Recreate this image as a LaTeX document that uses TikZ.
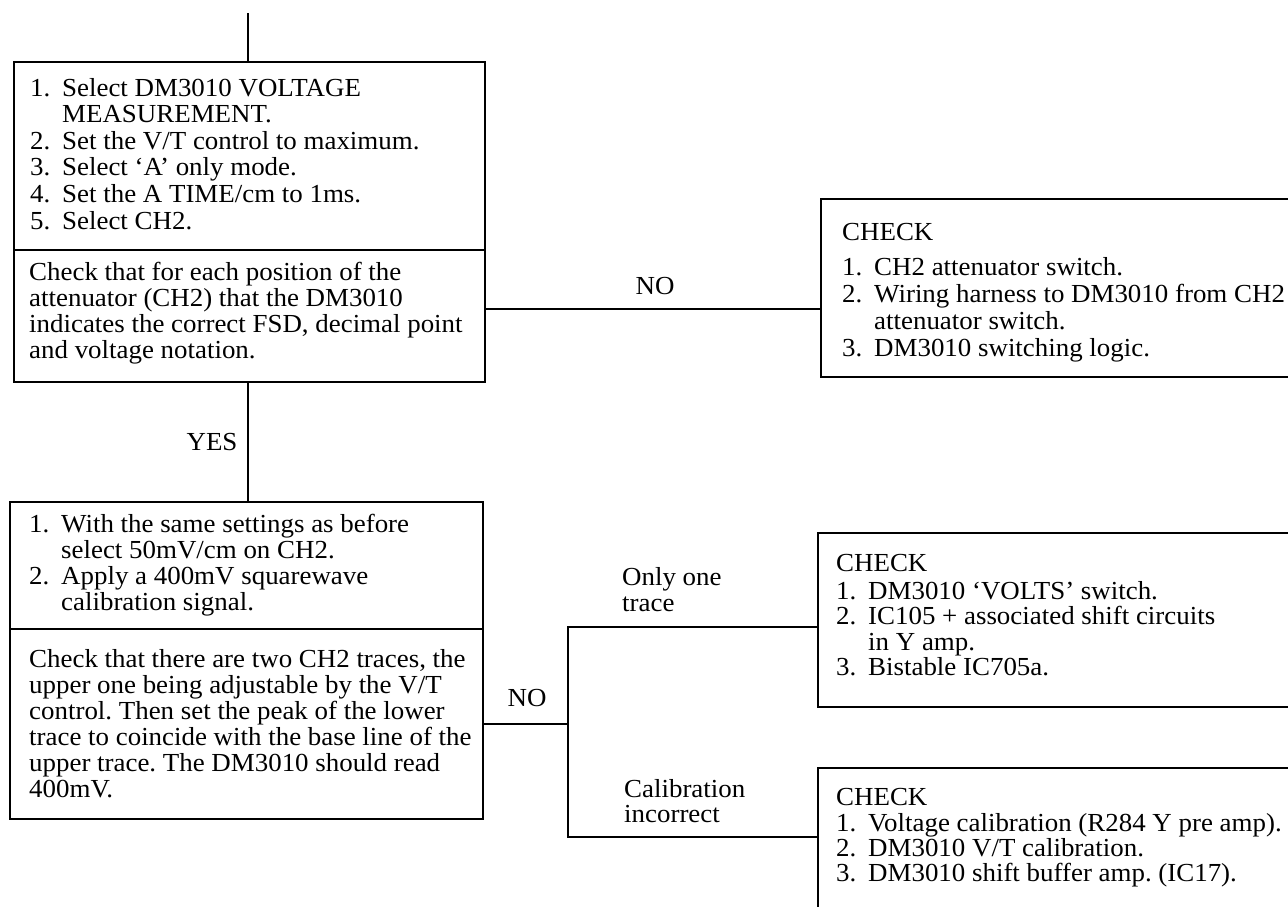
\documentclass[tikz,border=0pt]{standalone}
\usepackage{fontspec}
\setmainfont{Liberation Serif}[FakeStretch=1.035]
\frenchspacing
\newcommand\blines[2][26]{\vtop{\baselineskip=#1pt\lineskiplimit=-20pt\halign{##\hfil\cr#2\crcr}}}
\newcommand\nm[1]{\makebox[32pt][l]{#1}}
\newcommand\ind{\hspace*{32pt}}
\begin{document}
\begin{tikzpicture}[x=1pt,y=-1pt,line width=2.4pt,
  box/.style={draw,rectangle,inner sep=0pt,outer sep=0pt,anchor=north west},
  txt/.style={inner sep=0pt,anchor=base west,font=\fontsize{26}{26}\selectfont},
  lbl/.style={inner sep=0pt,font=\fontsize{26}{26}\selectfont}]
\useasboundingbox (0,0) rectangle (1288,906);
\clip (0,0) rectangle (1288,906);
% boxes
\node[box,minimum width=471pt,minimum height=188pt] (b1a) at (14,62) {};
\node[box,minimum width=471pt,minimum height=132pt] (b1b) at (14,250) {};
\node[box,minimum width=473pt,minimum height=127pt] (b2a) at (10,502) {};
\node[box,minimum width=473pt,minimum height=190pt] (b2b) at (10,629) {};
\node[box,minimum width=500pt,minimum height=178pt] (tr) at (821,199) {};
\node[box,minimum width=500pt,minimum height=174pt] (b3) at (818,533) {};
\node[box,minimum width=500pt,minimum height=200pt] (b4) at (818,768) {};
% texts
\node[txt] (t1a) at (29,96) {\blines[26.6]{\nm{1.}Select DM3010 VOLTAGE\cr
 \ind MEASUREMENT.\cr
 \nm{2.}Set the V/T control to maximum.\cr
 \nm{3.}Select ‘A’ only mode.\cr
 \nm{4.}Set the A TIME/cm to 1ms.\cr
 \nm{5.}Select CH2.}};
\node[txt] (t1b) at (28,280) {\blines[26]{Check that for each position of the\cr
 attenuator (CH2) that the DM3010\cr
 indicates the correct FSD, decimal point\cr
 and voltage notation.}};
\node[txt] (ttr) at (841,240) {CHECK};
\node[txt] (ttr2) at (841,275) {\blines[27]{\nm{1.}CH2 attenuator switch.\cr
 \nm{2.}Wiring harness to DM3010 from CH2\cr
 \ind attenuator switch.\cr
 \nm{3.}DM3010 switching logic.}};
\node[txt] (t2a) at (28,532) {\blines[26]{\nm{1.}With the same settings as before\cr
 \ind select 50mV/cm on CH2.\cr
 \nm{2.}Apply a 400mV squarewave\cr
 \ind calibration signal.}};
\node[txt] (t2b) at (28,667) {\blines[26]{Check that there are two CH2 traces, the\cr
 upper one being adjustable by the V/T\cr
 control. Then set the peak of the lower\cr
 trace to coincide with the base line of the\cr
 upper trace. The DM3010 should read\cr
 400mV.}};
\node[txt] (t3) at (835,571) {CHECK};
\node[txt] (t3b) at (835,599) {\blines[25.5]{\nm{1.}DM3010 ‘VOLTS’ switch.\cr
 \nm{2.}IC105 + associated shift circuits\cr
 \ind in Y amp.\cr
 \nm{3.}Bistable IC705a.}};
\node[txt] (t4) at (835,805) {CHECK};
\node[txt] (t4b) at (835,831) {\blines[25]{\nm{1.}Voltage calibration (R284 Y pre amp).\cr
 \nm{2.}DM3010 V/T calibration.\cr
 \nm{3.}DM3010 shift buffer amp. (IC17).}};
% connectors
\coordinate (top) at (248,13);
\draw (top) -- (top |- b1a.north);
\draw (top |- b1b.south) -- (top |- b2a.north);
\node[lbl] (yes) at (212,442) {YES};
\coordinate (j1) at (485,309);
\draw (b1b.east |- j1) -- (tr.west |- j1);
\node[lbl] (no1) at (655,286) {NO};
\coordinate (j2) at (568,724);
\draw (b2b.east) -- (j2);
\node[lbl] (no2) at (527,698) {NO};
\coordinate (jt) at (568,627);
\coordinate (jb) at (568,837);
\draw (b3.west |- jt) -- (jt) -- (jb) -- (b4.west |- jb);
\node[txt] (l1) at (621,585) {\blines[26]{Only one\cr trace}};
\node[txt] (l2) at (623,797) {\blines[25]{Calibration\cr incorrect}};
\end{tikzpicture}
\end{document}
